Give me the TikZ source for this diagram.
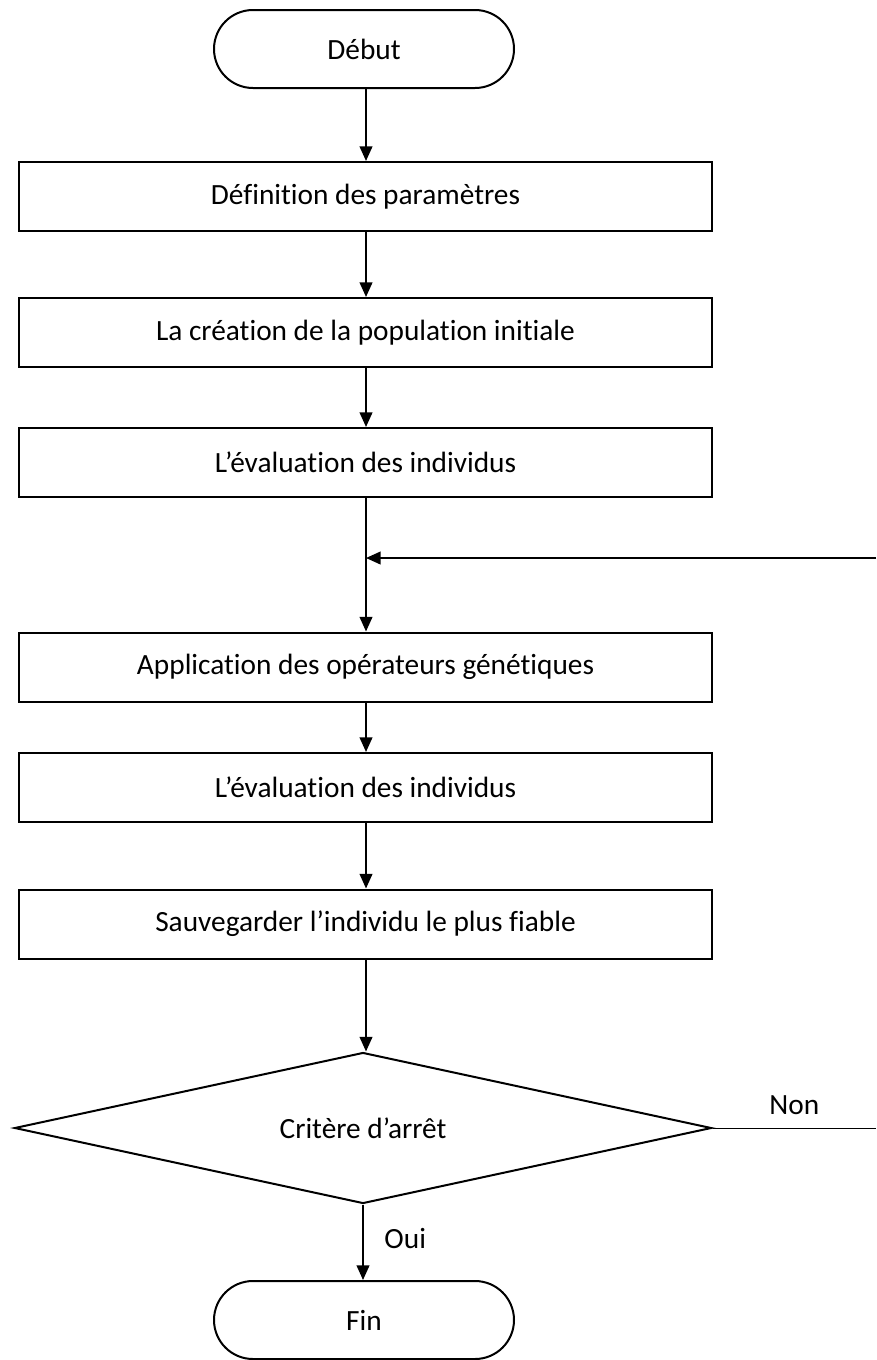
\documentclass[tikz,border=0pt]{standalone}
\usepackage{fontspec}
\setmainfont{Carlito}[Ligatures=NoCommon]
\usetikzlibrary{arrows.meta,shapes.geometric,shapes.misc}
\tikzset{>={Triangle[length=11pt,width=9.5pt]},
  every picture/.style={line width=1.5pt},
  every node/.style={font=\fontsize{22}{26}\selectfont},
  flow/.style={->,draw=black},
  terminal/.style={draw,rounded rectangle,minimum width=225pt,minimum height=58.5pt,inner sep=0pt},
  process/.style={draw,rectangle,minimum width=519.75pt,minimum height=51.75pt,inner sep=0pt},
  decision/.style={draw,diamond,aspect=4.6,minimum width=522.75pt,minimum height=113.25pt,inner sep=0pt},
  branch/.style={draw=black,line width=.75pt}}

\begin{document}
\begin{tikzpicture}[x=.75pt,y=-.75pt]
\useasboundingbox (0,0) rectangle (876,1360);
\node[terminal] (debut) at (364,49) {Début};
\node[process] (params) at (365.5,196.5) {Définition des paramètres};
\node[process] (popinit) at (365.5,332.5) {La création de la population initiale};
\node[process] (eval1) at (365.5,462.5) {L’évaluation des individus};
\node[process] (operateurs) at (365.5,667) {Application des opérateurs génétiques};
\node[process] (eval2) at (365.5,787.5) {L’évaluation des individus};
\node[process] (sauver) at (365.5,924) {Sauvegarder l’individu le plus fiable};
\node[decision] (critere) at (363,1128) {Critère d’arrêt};
\node[terminal] (fin) at (364,1320) {Fin};
% return of the loop: comes in from the right edge and joins the main line
\coordinate (retour) at (876,558);
\coordinate (jonction) at (366,558);
\coordinate (sortie) at (876,1128);
\foreach \a/\b in {debut/params,params/popinit,popinit/eval1,eval1/operateurs,operateurs/eval2,eval2/sauver,sauver/critere}{
 \draw[flow] (\a.south -| jonction)--(\b.north -| jonction);}
\draw[flow] (retour)--(jonction);
\draw[branch] (critere.east)--node[above=6pt,pos=.5] (non) {Non}(sortie);
\draw[flow] (critere.south)--node[right=12pt,pos=.45] (oui) {Oui}(fin.north -| critere.south);
\end{tikzpicture}
\end{document}
